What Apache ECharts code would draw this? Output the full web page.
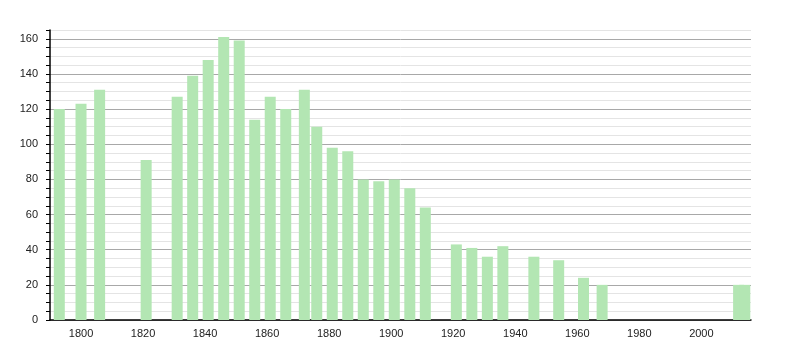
<!DOCTYPE html>
<html>
<head>
<meta charset="utf-8">
<script src="https://cdn.jsdelivr.net/npm/echarts@6/dist/echarts.min.js"></script>
<style>html,body{margin:0;padding:0;background:#fff}#c{width:800px;height:350px}</style>
</head>
<body>
<div id="c"></div>
<script>
const years = [1793,1800,1806,1821,1831,1836,1841,1846,1851,1856,1861,1866,1872,1876,1881,1886,1891,1896,1901,1906,1911,1921,1926,1931,1936,1946,1954,1962,1968,2012,2014];
const population = [120,123,131,91,127,139,148,161,159,114,127,120,131,110,98,96,80,79,80,75,64,43,41,36,42,36,34,24,20,20,20];
const xTickLabels = [1800,1820,1840,1860,1880,1900,1920,1940,1960,1980,2000];
const yTickLabels = [0,20,40,60,80,100,120,140,160];

const chart = echarts.init(document.getElementById('c'), null, {renderer:'canvas'});
const font = {fontFamily:'Liberation Sans, Arial, sans-serif', fontSize:11, color:'#222'};
chart.setOption({
  animation:false,
  backgroundColor:'#fff',
  grid:{left:50, right:49, top:30, bottom:30, containLabel:false},
  xAxis:{
    type:'value', min:1790, max:2016,
    axisLine:{show:true, onZero:false, lineStyle:{color:'#000', width:1.5}},
    axisTick:{show:false},
    splitLine:{show:false},
    axisLabel:Object.assign({customValues:xTickLabels, margin:8, formatter:function(v){return String(v);}}, font)
  },
  yAxis:{
    type:'value', min:0, max:165, interval:5,
    axisLine:{show:true, lineStyle:{color:'#000', width:1.5}},
    axisTick:{show:true, length:4, lineStyle:{color:'#000'}},
    axisLabel:Object.assign({margin:12, formatter:function(v){return yTickLabels.indexOf(v)>=0 ? String(v) : '';}}, font),
    splitLine:{show:true, lineStyle:{color:['#a8a8a8','#e4e4e4','#e4e4e4','#e4e4e4'], width:1}}
  },
  series:[{
    type:'bar',
    data:years.map((y,i)=>[y,population[i]]),
    barWidth:11,
    itemStyle:{color:'#b3e6b3'}
  }]
});
</script>
</body>
</html>
